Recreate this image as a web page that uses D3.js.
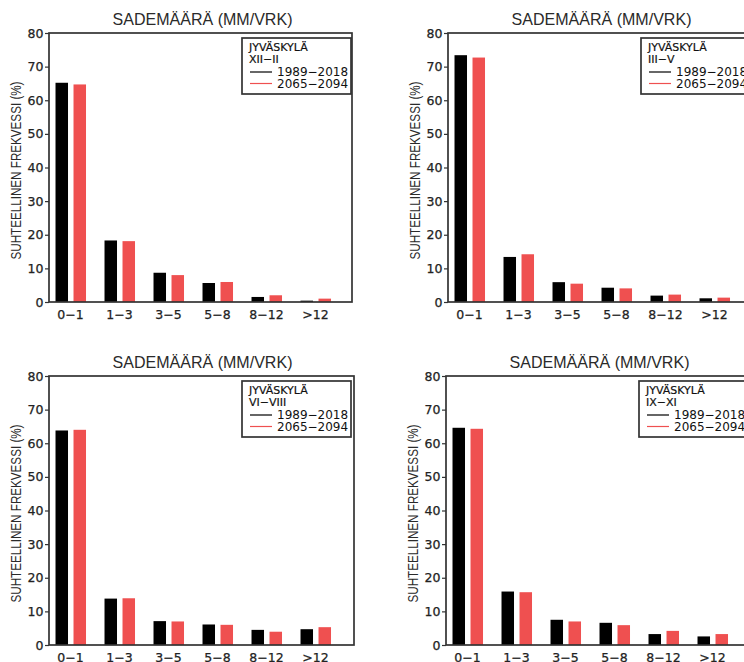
<!DOCTYPE html>
<html>
<head>
<meta charset="utf-8">
<script src="https://cdn.jsdelivr.net/npm/d3@7"></script>
<style>
  html, body { margin: 0; padding: 0; background: #fff; }
  svg { display: block; }
</style>
</head>
<body>
<svg id="chart" width="744" height="662"></svg>
<script>
// ---- data ----
const categories = ["0\u22121", "1\u22123", "3\u22125", "5\u22128", "8\u221212", ">12"];
const seriesNames = ["1989\u22122018", "2065\u22122094"];
const seasons = ["XII\u2212II", "III\u2212V", "VI\u2212VIII", "IX\u2212XI"];
const station = "JYVÄSKYLÄ";
const chartTitle = "SADEMÄÄRÄ (MM/VRK)";
const yTitle = "SUHTEELLINEN FREKVESSI (%)";
const yTicks = [0, 10, 20, 30, 40, 50, 60, 70, 80];

const djf_1989 = [65.2, 18.3, 8.7, 5.65, 1.5, 0.4];
const djf_2065 = [64.7, 18.1, 8.0, 5.95, 2.0, 1.0];
const mam_1989 = [73.4, 13.4, 5.9, 4.25, 1.9, 1.1];
const mam_2065 = [72.7, 14.2, 5.45, 4.05, 2.2, 1.3];
const jja_1989 = [63.8, 13.8, 7.1, 6.1, 4.5, 4.7];
const jja_2065 = [64.0, 13.9, 7.0, 6.0, 3.95, 5.3];
const son_1989 = [64.6, 15.9, 7.5, 6.6, 3.25, 2.55];
const son_2065 = [64.3, 15.7, 7.0, 5.9, 4.2, 3.25];

const panelData = [
  [djf_1989, djf_2065],
  [mam_1989, mam_2065],
  [jja_1989, jja_2065],
  [son_1989, son_2065]
];

// ---- layout ----
const panels = [
  {x: 49,  y: 33,  w: 303, h: 269},
  {x: 448, y: 33,  w: 303, h: 269},
  {x: 49,  y: 376, w: 305, h: 269},
  {x: 446, y: 376, w: 303, h: 269}
];
const colors = ["#000000", "#ef5050"];
const frameColor = "#333";

const svg = d3.select("#chart");

panels.forEach((p, pi) => {
  const g = svg.append("g").attr("transform", `translate(${p.x},${p.y})`);
  const x = d3.scaleLinear().domain([-0.439, -0.439 + 303 / 49]).range([0, 303]);
  const y = d3.scaleLinear().domain([0, 80]).range([p.h, 0]);
  const bw = 12.5 / 49;
  const offs = [-15 / 49, 3 / 49];

  // bars
  panelData[pi].forEach((vals, si) => {
    g.selectAll(null).data(vals).enter().append("rect")
      .attr("x", (d, i) => x(i + offs[si]))
      .attr("width", (d, i) => x(i + offs[si] + bw) - x(i + offs[si]))
      .attr("y", d => y(d))
      .attr("height", d => y(0) - y(d))
      .attr("fill", colors[si]);
  });

  // frame
  g.append("rect").attr("x", 0).attr("y", 0).attr("width", p.w).attr("height", p.h)
    .attr("fill", "none").attr("stroke", frameColor).attr("stroke-width", 1.7);

  // y axis
  const ya = g.append("g").call(d3.axisLeft(y).tickValues(yTicks).tickSize(4).tickSizeOuter(0).tickPadding(1.5));
  ya.select(".domain").remove();
  ya.selectAll("line").attr("stroke", frameColor).attr("stroke-width", 1.2);
  ya.selectAll("text").attr("font-family", "DejaVu Sans").attr("font-size", 12.5)
    .attr("fill", "#222").attr("stroke", "#222").attr("stroke-width", 0.25);

  // x labels
  g.selectAll(null).data(categories).enter().append("text")
    .attr("x", (d, i) => x(i))
    .attr("y", p.h + 16.5)
    .attr("text-anchor", "middle")
    .attr("font-family", "DejaVu Sans").attr("font-size", 12.5)
    .attr("fill", "#222").attr("stroke", "#222").attr("stroke-width", 0.25)
    .text(d => d);

  // title
  g.append("text")
    .attr("x", 303 / 2 + 2).attr("y", -8)
    .attr("text-anchor", "middle")
    .attr("font-family", "Liberation Sans").attr("font-size", 16.5).attr("fill", "#2a2a2a")
    .attr("textLength", 180).attr("lengthAdjust", "spacingAndGlyphs")
    .text(chartTitle);

  // y title
  g.append("text")
    .attr("transform", `translate(-28,${p.h / 2 + 3}) rotate(-90)`)
    .attr("text-anchor", "middle")
    .attr("font-family", "Liberation Sans").attr("font-size", 15.5).attr("fill", "#2a2a2a")
    .attr("textLength", 178).attr("lengthAdjust", "spacingAndGlyphs")
    .text(yTitle);

  // legend
  const lg = g.append("g").attr("transform", "translate(193,5)");
  lg.append("rect").attr("x", 0).attr("y", 0).attr("width", 109).attr("height", 56)
    .attr("fill", "#fff").attr("stroke", frameColor).attr("stroke-width", 1.7);
  lg.append("text").attr("x", 7).attr("y", 13)
    .attr("font-family", "DejaVu Sans").attr("font-size", 11).attr("fill", "#111")
    .attr("stroke", "#111").attr("stroke-width", 0.2)
    .text(station);
  lg.append("text").attr("x", 7).attr("y", 25)
    .attr("font-family", "DejaVu Sans").attr("font-size", 11).attr("fill", "#111")
    .attr("stroke", "#111").attr("stroke-width", 0.2)
    .text(seasons[pi]);
  seriesNames.forEach((s, si) => {
    const by = 38 + si * 11.5;
    lg.append("line").attr("x1", 8).attr("x2", 30).attr("y1", by - 4).attr("y2", by - 4)
      .attr("stroke", colors[si]).attr("stroke-width", 1.2);
    lg.append("text").attr("x", 35).attr("y", by)
      .attr("font-family", "DejaVu Sans").attr("font-size", 12).attr("fill", "#111")
      .text(s);
  });
});
</script>
</body>
</html>
